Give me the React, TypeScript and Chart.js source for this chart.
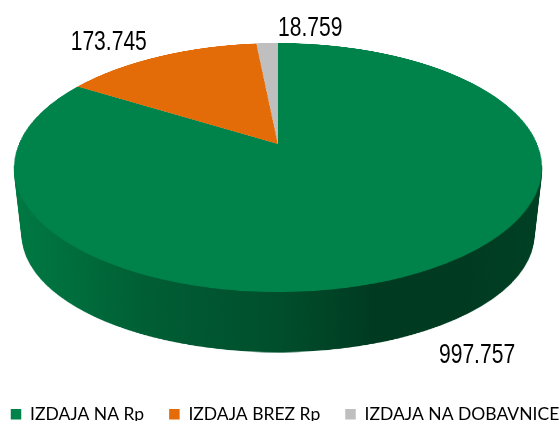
import React, { useEffect, useRef } from "react";
import { Chart, registerables } from "chart.js";

Chart.register(...registerables);

// ---------- data ----------
const categories = ["IZDAJA NA Rp", "IZDAJA BREZ Rp", "IZDAJA NA DOBAVNICE"];
const values = [997.757, 173.745, 18.759];
const sliceColors = ["#00834A", "#E36C09", "#BFBFBF"];

// ---------- layout / style ----------
const VIEW_W = 560;
const VIEW_H = 421;
const SHIFT_X = 40; // canvas is wider than the view so the legend fits on one row
const CANVAS_W = 660;
const CANVAS_H = 433;
const LEGEND_CENTER_X = 285;

const PIE = {
  cx: 278,
  apexY: 144,
  farY: 43,
  nearY: 292,
  halfWidth: 264,
  depth: 69,
  bottomShrinkX: 0.03,
  bottomShrinkY: 0.06,
};
const LABEL_FONT = { family: "'Liberation Sans', Arial, sans-serif", size: 27, squeeze: 0.78 };
const LABEL_OFFSETS = [
  [48, 84],
  [-51, -16],
  [43, -17],
];
const SIDE_SHADE: [number, number][] = [
  [0, 0.06],
  [0.25, 0.28],
  [0.5, 0.4],
  [0.68, 0.55],
  [0.85, 0.55],
  [1, 0.5],
];

function geometry() {
  const far = PIE.apexY - PIE.farY;
  const near = PIE.nearY - PIE.apexY;
  const m = (near - far) / (near + far);
  const b = far * (1 + m);
  const a = PIE.halfWidth * Math.sqrt(1 - m * m);
  return { m, a, b };
}

function warp(
  ctx: CanvasRenderingContext2D,
  src: HTMLCanvasElement,
  Rs: number,
  pad: number,
  cx: number,
  c: number,
  a: number,
  b: number,
  m: number,
  yFrom: number = -Infinity
) {
  const yTop = Math.floor(c - b / (1 + m)) - 1;
  const yBot = Math.ceil(c + b / (1 - m)) + 1;
  const vOf = (Y: number) => (Y - c) / (b + m * (Y - c));
  for (let Y = Math.max(yTop, yFrom); Y < yBot; Y++) {
    let v0 = vOf(Y);
    let v1 = vOf(Y + 1);
    if (v1 <= -1 || v0 >= 1) continue;
    v0 = Math.max(v0, -1);
    v1 = Math.min(v1, 1);
    const vm = (v0 + v1) / 2;
    const s = a / (1 - m * vm);
    const sy = pad + Rs + v0 * Rs;
    const sh = Math.max((v1 - v0) * Rs, 0.01);
    ctx.drawImage(src, pad, sy, 2 * Rs, sh, cx - s, Y, 2 * s, 1);
  }
}

const pie3d = {
  id: "pie3d",
  beforeDatasetsDraw(chart: any) {
    const arcs = chart.getDatasetMeta(0).data;
    if (!arcs.length) return false;
    const R = arcs[0].outerRadius;
    const ax = arcs[0].x;
    const ay = arcs[0].y;
    const Rs = 300;
    const pad = 4;
    const size = 2 * (Rs + pad);
    const src = document.createElement("canvas");
    src.width = size;
    src.height = size;
    const sctx = src.getContext("2d")!;
    const k = Rs / R;
    sctx.setTransform(k, 0, 0, k, pad + Rs - k * ax, pad + Rs - k * ay);
    arcs.forEach((arc: any) => arc.draw(sctx));

    const ctx: CanvasRenderingContext2D = chart.ctx;
    const { m, a, b } = geometry();
    const cx = PIE.cx + SHIFT_X;

    // side wall
    const side = document.createElement("canvas");
    side.width = chart.width;
    side.height = chart.height;
    const sd = side.getContext("2d")!;
    const N = Math.round(PIE.depth);
    for (let i = N; i >= 1; i--) {
      const t = i / N;
      const at = a * (1 - PIE.bottomShrinkX * t);
      const bt = b * (1 - PIE.bottomShrinkY * t);
      const ct = PIE.apexY + PIE.depth * t;
      const widest = ct + (bt * m) / (1 - m * m);
      warp(sd, src, Rs, pad, cx, ct, at, bt, m, Math.floor(widest) - 3);
    }
    sd.globalCompositeOperation = "source-atop";
    const g = sd.createLinearGradient(cx - PIE.halfWidth, 0, cx + PIE.halfWidth, 0);
    SIDE_SHADE.forEach(([o, al]) => g.addColorStop(o, `rgba(0,0,0,${al})`));
    sd.fillStyle = g;
    sd.fillRect(0, 0, side.width, side.height);
    ctx.drawImage(side, 0, 0);

    // top face
    warp(ctx, src, Rs, pad, cx, PIE.apexY, a, b, m);
    return false;
  },
  afterDraw(chart: any) {
    const arcs = chart.getDatasetMeta(0).data;
    const ctx: CanvasRenderingContext2D = chart.ctx;
    const { m, a, b } = geometry();
    const cx = PIE.cx + SHIFT_X;
    ctx.save();
    ctx.font = `${LABEL_FONT.size}px ${LABEL_FONT.family}`;
    ctx.fillStyle = "#000";
    ctx.textAlign = "center";
    ctx.textBaseline = "alphabetic";
    arcs.forEach((arc: any, i: number) => {
      const th = (arc.startAngle + arc.endAngle) / 2;
      const d = 1 - m * Math.sin(th);
      const x = cx + (a * Math.cos(th)) / d + LABEL_OFFSETS[i][0];
      const y = PIE.apexY + (b * Math.sin(th)) / d + LABEL_OFFSETS[i][1];
      ctx.save();
      ctx.translate(x, y + 0.358 * LABEL_FONT.size);
      ctx.scale(LABEL_FONT.squeeze, 1);
      ctx.fillText(values[i].toFixed(3), 0, 0);
      ctx.restore();
    });
    ctx.restore();
  },
};

export default function App() {
  const ref = useRef<HTMLCanvasElement | null>(null);
  useEffect(() => {
    document.body.style.margin = "0";
    document.body.style.overflow = "hidden";
    const canvas = ref.current!;
    const chart = new Chart(canvas, {
      type: "pie",
      data: {
        labels: categories,
        datasets: [
          {
            data: values,
            backgroundColor: sliceColors,
            borderWidth: 0,
          },
        ],
      },
      options: {
        responsive: false,
        animation: false,
        layout: { padding: { left: 0, right: CANVAS_W - 2 * (LEGEND_CENTER_X + SHIFT_X) } },
        plugins: {
          legend: {
            position: "bottom",
            labels: {
              font: { family: "Lato", size: 17.5 },
              color: "#000",
              boxWidth: 10.5,
              boxHeight: 10.5,
              padding: 25,
            },
          },
          tooltip: { enabled: false },
        },
      },
      plugins: [pie3d],
    });
    return () => chart.destroy();
  }, []);
  return (
    <div style={{ width: VIEW_W, height: VIEW_H, overflow: "hidden", position: "relative", background: "#fff" }}>
      <canvas
        ref={ref}
        width={CANVAS_W}
        height={CANVAS_H}
        style={{ display: "block", marginLeft: -SHIFT_X }}
      />
    </div>
  );
}
